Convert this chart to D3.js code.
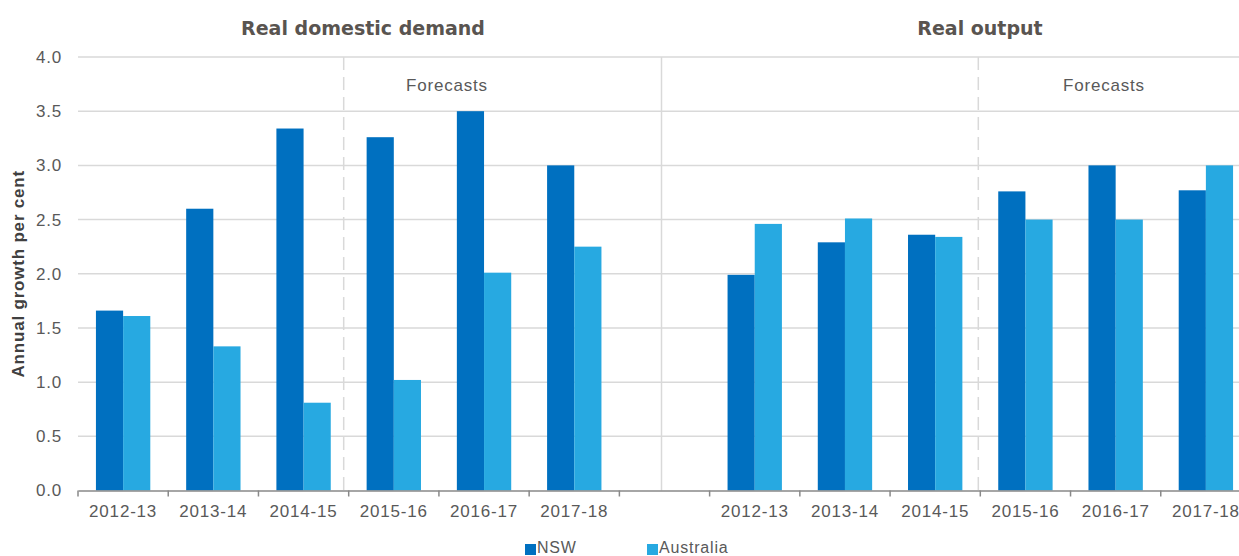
<!DOCTYPE html>
<html>
<head>
<meta charset="utf-8">
<script src="https://cdn.jsdelivr.net/npm/d3@7"></script>
<style>
  body { margin: 0; background: #fff; }
  text { font-family: "Liberation Sans", Arial, sans-serif; }
</style>
</head>
<body>
<div id="vis-holder"></div>
<script>
// data
const periods = ["2012-13", "2013-14", "2014-15", "2015-16", "2016-17", "2017-18"];
const panels = ["Real domestic demand", "Real output"];
const seriesNames = ["NSW", "Australia"];
const nswDemand = [1.66, 2.60, 3.34, 3.26, 3.50, 3.00];
const ausDemand = [1.61, 1.33, 0.81, 1.02, 2.01, 2.25];
const nswOutput = [1.99, 2.29, 2.36, 2.76, 3.00, 2.77];
const ausOutput = [2.46, 2.51, 2.34, 2.50, 2.50, 3.00];
const yTicks = [0, 0.5, 1.0, 1.5, 2.0, 2.5, 3.0, 3.5, 4.0];

const width = 1239, height = 556;
const margin = { top: 57, right: -12, bottom: 65, left: 78 };
const colors = { NSW: "#0070C0", Australia: "#27A9E1" };
const textGrey = "#595959";

// one flat list of categories, with an empty slot between the two panels
let cats = [];
periods.forEach((p, i) => cats.push({ key: "d|" + p, label: p, NSW: nswDemand[i], Australia: ausDemand[i] }));
cats.push({ key: "gap", label: "", NSW: null, Australia: null });
periods.forEach((p, i) => cats.push({ key: "o|" + p, label: p, NSW: nswOutput[i], Australia: ausOutput[i] }));

const svg = d3.select("#vis-holder")
  .append("svg")
  .attr("width", width)
  .attr("height", height);

const x = d3.scaleBand()
  .domain(cats.map(d => d.key))
  .range([margin.left, width - margin.right])
  .padding(0);

const xs = d3.scaleBand()
  .domain(seriesNames)
  .range([0, x.bandwidth()])
  .paddingInner(0)
  .paddingOuter(0.66);

const y = d3.scaleLinear()
  .domain([0, 4])
  .range([height - margin.bottom - 0.5, margin.top]);

// gridlines
svg.append("g")
  .selectAll("line")
  .data(yTicks.slice(1))
  .join("line")
  .attr("x1", margin.left)
  .attr("x2", width)
  .attr("y1", d => y(d))
  .attr("y2", d => y(d))
  .attr("stroke", "#d9d9d9")
  .attr("stroke-width", 1.5);

// y tick labels
svg.append("g")
  .selectAll("text")
  .data(yTicks)
  .join("text")
  .attr("x", margin.left - 16)
  .attr("y", d => y(d))
  .attr("dy", "0.35em")
  .attr("text-anchor", "end")
  .attr("font-size", "17px")
  .attr("letter-spacing", "0.8px")
  .attr("fill", textGrey)
  .text(d => d.toFixed(1));

// panel separators
const step = x.step();
const xSolid = x("gap") + step / 2 - 3;
svg.append("line")
  .attr("x1", xSolid).attr("x2", xSolid)
  .attr("y1", y(4)).attr("y2", y(0))
  .attr("stroke", "#d9d9d9").attr("stroke-width", 1.5);

[x("d|2015-16") - 5, x("o|2015-16") - 2].forEach(px => {
  svg.append("line")
    .attr("x1", px).attr("x2", px)
    .attr("y1", y(4)).attr("y2", y(0))
    .attr("stroke", "#d9d9d9").attr("stroke-width", 1.5)
    .attr("stroke-dasharray", "13,7");
});

// bars
const groups = svg.append("g")
  .selectAll("g")
  .data(cats.filter(d => d.key !== "gap"))
  .join("g")
  .attr("transform", d => `translate(${x(d.key)},0)`);

groups.selectAll("rect")
  .data(d => seriesNames.map(s => ({ s: s, v: d[s] })))
  .join("rect")
  .attr("x", d => xs(d.s))
  .attr("width", xs.bandwidth())
  .attr("y", d => y(d.v))
  .attr("height", d => y(0) - y(d.v))
  .attr("fill", d => colors[d.s]);

// x axis: labels at centres, ticks at category boundaries
const xAxis = svg.append("g")
  .attr("transform", `translate(0, ${y(0)})`)
  .call(d3.axisBottom(x)
    .tickSize(0)
    .tickPadding(14)
    .tickFormat(k => cats.find(c => c.key === k).label));
xAxis.select(".domain").attr("stroke", "#898989").attr("stroke-width", 1.5);
xAxis.selectAll("text").attr("font-size", "17px").attr("fill", textGrey)
  .attr("letter-spacing", "0.8px");

xAxis.append("g")
  .selectAll("line")
  .data(d3.range(cats.length + 1))
  .join("line")
  .attr("x1", i => margin.left + i * step)
  .attr("x2", i => margin.left + i * step)
  .attr("y1", 0)
  .attr("y2", 6)
  .attr("stroke", "#898989")
  .attr("stroke-width", 1.5);

// panel titles
[[panels[0], 363], [panels[1], 980]].forEach(([t, px]) => {
  svg.append("text")
    .attr("x", px).attr("y", 35)
    .attr("text-anchor", "middle")
    .style("font-family", "'DejaVu Sans', sans-serif")
    .attr("font-weight", 700)
    .attr("font-size", "19px")
    .attr("fill", "#595450")
    .text(t);
});

// forecasts labels
[447, 1104].forEach(px => {
  svg.append("text")
    .attr("x", px).attr("y", 91)
    .attr("text-anchor", "middle")
    .attr("font-size", "17px")
    .attr("letter-spacing", "0.8px")
    .attr("fill", textGrey)
    .text("Forecasts");
});

// y axis title
svg.append("text")
  .attr("transform", `translate(24, ${(y(0) + y(4)) / 2}) rotate(-90)`)
  .attr("text-anchor", "middle")
  .attr("font-size", "17px")
  .attr("font-weight", 700)
  .attr("letter-spacing", "0.8px")
  .attr("fill", "#404040")
  .text("Annual growth per cent");

// legend
const legend = svg.append("g");
[["NSW", 525], ["Australia", 647]].forEach(([s, px]) => {
  legend.append("rect")
    .attr("x", px).attr("y", 544)
    .attr("width", 11).attr("height", 11)
    .attr("fill", colors[s]);
  legend.append("text")
    .attr("x", px + 12).attr("y", 553)
    .attr("font-size", "16px")
    .attr("letter-spacing", "0.8px")
    .attr("fill", textGrey)
    .text(s);
});
</script>
</body>
</html>
